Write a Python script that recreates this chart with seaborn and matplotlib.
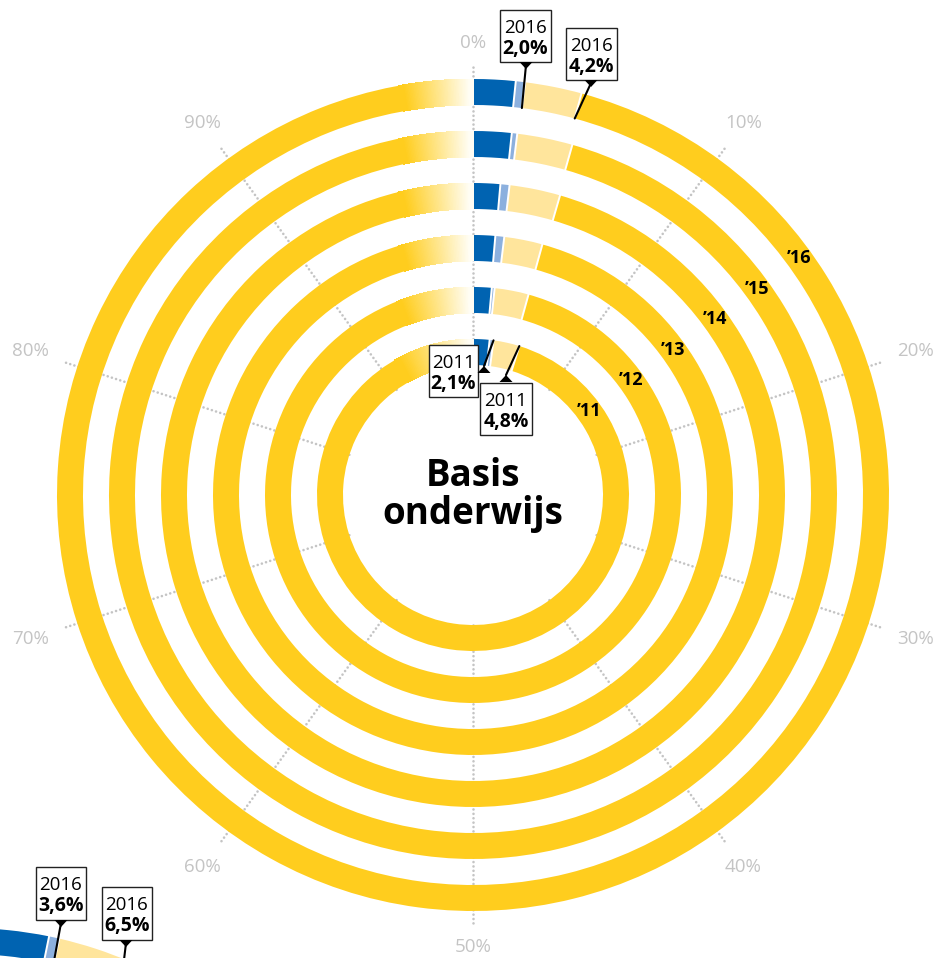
import numpy as np
import seaborn as sns
import matplotlib.pyplot as plt
from matplotlib.patches import Rectangle, Polygon

sns.set_theme(style="white")
plt.rcParams["font.family"] = ["Open Sans", "DejaVu Sans"]
plt.rcParams["text.color"] = "black"

# ring labels, inner to outer
years = ["\u201911", "\u201912", "\u201913", "\u201914", "\u201915", "\u201916"]
year_full = ["2011", "2012", "2013", "2014", "2015", "2016"]

# percentages (end of each segment, cumulative)
dark_blue_end = [1.7, 1.44, 1.37, 1.40, 1.70, 1.64]
light_blue_end = [2.1, 1.66, 1.92, 1.87, 1.94, 2.0]
light_yellow_end = [4.8, 4.3, 4.3, 4.5, 4.4, 4.2]

# outer ring of the next chart (cut off at the bottom)
next_dark_blue_end = [3.2]
next_light_blue_end = [3.6]
next_light_yellow_end = [6.5]

pct_ticks = list(range(0, 100, 10))
tick_labels = [f"{p}%" for p in pct_ticks]

DARK_BLUE = "#0063b1"
LIGHT_BLUE = "#8cb0de"
LIGHT_YELLOW = "#ffe59c"
YELLOW = "#ffcd1e"
GRID = "#c4c4c4"

W, H = 950, 958
R = 470
ring_outer = [156, 208, 260, 312, 364, 416]
ring_w = 26


def th(p):
    return p / 100 * 2 * np.pi


def px(x, y):
    return x / W, 1 - y / H


def polar_axes(fig, cx, cy):
    ax = fig.add_axes([(cx - R) / W, (H - cy - R) / H, 2 * R / W, 2 * R / H],
                      projection="polar")
    ax.set_theta_zero_location("N")
    ax.set_theta_direction(-1)
    ax.set_ylim(0, R)
    ax.set_axis_off()
    return ax


fade = sns.blend_palette(["#fffdf4", YELLOW], 101)


def draw_ring(ax, r_out, db, lb, ly):
    r_in = r_out - ring_w
    segs = [(0, db, DARK_BLUE), (db, lb, LIGHT_BLUE), (lb, ly, LIGHT_YELLOW), (ly, 100, YELLOW)]
    for a, b, c in segs:
        ax.bar(th(a), ring_w, width=th(b) - th(a), bottom=r_in, align="edge",
               color=c, linewidth=0, zorder=2)
    # fade towards 100%
    r_mid = r_out - ring_w / 2
    amax = np.arcsin(min(72 / r_mid, 1))
    edges = np.linspace(2 * np.pi - amax, 2 * np.pi, 161)
    step = edges[1] - edges[0]
    for e in edges[:-1]:
        a = 2 * np.pi - (e + step / 2)
        t = np.clip((r_mid * np.sin(a) - 3) / 64, 0, 1)
        ax.bar(e, ring_w, width=step * 1.05, bottom=r_in, align="edge",
               color=fade[int(round(t * 100))], linewidth=0, antialiased=False, zorder=3)
    for p in (db, lb, ly):
        ax.plot([th(p), th(p)], [r_in - 1, r_out + 1], color="white", lw=1.4, zorder=4)


fig = plt.figure(figsize=(W / 100, H / 100), dpi=100)
ax = polar_axes(fig, 473, 495)
ax2 = polar_axes(fig, -34, 1344)

for p, lab in zip(pct_ticks, tick_labels):
    ax.plot([th(p), th(p)], [130, 430], color=GRID, lw=1.9,
            linestyle=(0, (0.01, 1.65)), dash_capstyle="round", zorder=1)
    r_lab = 452 + 14 * abs(np.sin(th(p)))
    ax.text(th(p), r_lab, lab, ha="center", va="center", color=GRID, fontsize=13.5)

for i, r_out in enumerate(ring_outer):
    draw_ring(ax, r_out, dark_blue_end[i], light_blue_end[i], light_yellow_end[i])
    ax.text(th(15), r_out - ring_w / 2, years[i], ha="center", va="center",
            fontsize=13, fontweight="bold", color="black", zorder=6)

draw_ring(ax2, ring_outer[-1], next_dark_blue_end[0], next_light_blue_end[0],
          next_light_yellow_end[0])

ax.text(0, 0, "Basis\nonderwijs", ha="center", va="center", fontsize=26.5,
        fontweight="bold", color="black", linespacing=1.0, zorder=6)


def fmt(v):
    return f"{v:.1f}%".replace(".", ",")


def callout(target_ax, value, r_edge, year, box, tri, up):
    left, top, bw, bh = box
    fig.add_artist(Rectangle(px(left, top + bh), bw / W, bh / H, transform=fig.transFigure,
                             facecolor="white", edgecolor="#222222", lw=1.0, zorder=20))
    xc = left + bw / 2
    fig.text(*px(xc, top + 23), year, ha="center", va="baseline", fontsize=13.5,
             color="black", zorder=21)
    fig.text(*px(xc, top + 44), fmt(value), ha="center", va="baseline", fontsize=14,
             fontweight="bold", color="black", zorder=21)
    tx, ty = tri
    if up:
        pts = [px(tx - 6.5, ty + 7), px(tx + 6.5, ty + 7), px(tx, ty)]
    else:
        pts = [px(tx - 6.5, ty - 3), px(tx + 6.5, ty - 3), px(tx, ty + 4)]
    fig.add_artist(Polygon(pts, closed=True, transform=fig.transFigure,
                           facecolor="black", edgecolor="none", zorder=22))
    target_ax.annotate("", xy=(th(value), r_edge), xycoords="data",
                       xytext=(tx, H - ty), textcoords="figure pixels",
                       arrowprops=dict(arrowstyle="-", color="black", lw=1.5,
                                       shrinkA=0, shrinkB=0), zorder=15)


inner_edge = ring_outer[-1] - ring_w
callout(ax, light_blue_end[5], inner_edge, year_full[5], (500, 10, 51, 52), (526, 65), False)
callout(ax, light_yellow_end[5], inner_edge, year_full[5], (566, 28, 51, 52), (591, 83), False)
callout(ax, light_blue_end[0], ring_outer[0], year_full[0], (429, 345, 49, 52), (484, 366), True)
callout(ax, light_yellow_end[0], ring_outer[0], year_full[0], (480, 383, 52, 52), (506, 375), True)
callout(ax2, next_light_blue_end[0], inner_edge, "2016", (36, 867, 50, 53), (61, 923), False)
callout(ax2, next_light_yellow_end[0], inner_edge, "2016", (102, 887, 50, 53), (126, 943), False)

fig.savefig("out.png", dpi=100, facecolor="white")
